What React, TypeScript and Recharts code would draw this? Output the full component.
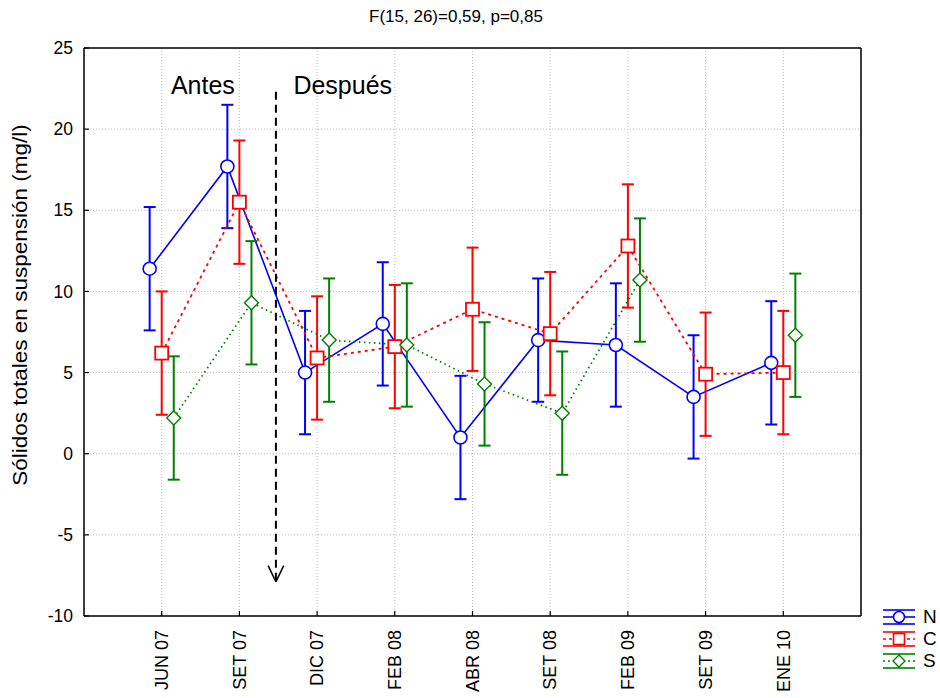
import React from 'react';
import {
  ComposedChart,
  Line,
  ErrorBar,
  XAxis,
  YAxis,
  CartesianGrid,
  ReferenceLine,
  ReferenceDot,
} from 'recharts';

// sampling campaigns
const categories = ['JUN 07', 'SET 07', 'DIC 07', 'FEB 08', 'ABR 08', 'SET 08', 'FEB 09', 'SET 09', 'ENE 10'];

// means per site (mg/l)
const nValues = [11.4, 17.7, 5.0, 8.0, 1.0, 7.0, 6.7, 3.5, 5.6];
const cValues = [6.2, 15.5, 5.9, 6.6, 8.9, 7.4, 12.8, 4.9, 5.0];
const sValues: (number | null)[] = [2.2, 9.3, 7.0, 6.7, 4.3, 2.5, 10.7, null, 7.3];

// half-width of the confidence bars
const nErrors = [3.8, 3.8, 3.8, 3.8, 3.8, 3.8, 3.8, 3.8, 3.8];
const cErrors = [3.8, 3.8, 3.8, 3.8, 3.8, 3.8, 3.8, 3.8, 3.8];
const sErrors = [3.8, 3.8, 3.8, 3.8, 3.8, 3.8, 3.8, null, 3.8];

const yTicks = [-10, -5, 0, 5, 10, 15, 20, 25];
const xTicks = [1, 2, 3, 4, 5, 6, 7, 8, 9];

const FONT = "Arial, 'Liberation Sans', sans-serif";
const BLUE = '#0000ff';
const RED = '#ff0000';
const GREEN = '#008000';

// small horizontal shift so the three series don't overlap
const SHIFT = 0.155;

const build = (vals: (number | null)[], errs: (number | null)[], offset: number) =>
  vals.map((v, i) => ({ x: i + 1 + offset, y: v, err: errs[i] }));

const nData = build(nValues, nErrors, -SHIFT);
const cData = build(cValues, cErrors, 0);
const sData = build(sValues, sErrors, SHIFT);

// annotation (before / after)
const ARROW_X = 2.47;
const ARROW_TOP = 22.3;
const ARROW_TIP = -7.9;

const circleDot = (props: any) => {
  const { cx, cy, index } = props;
  if (cx == null || cy == null) return <g key={`n${index}`} />;
  return <circle key={`n${index}`} cx={cx} cy={cy} r={6.5} fill="#fff" stroke={BLUE} strokeWidth={1.6} />;
};

const squareDot = (props: any) => {
  const { cx, cy, index } = props;
  if (cx == null || cy == null) return <g key={`c${index}`} />;
  return <rect key={`c${index}`} x={cx - 6.5} y={cy - 6.5} width={13} height={13} fill="#fff" stroke={RED} strokeWidth={1.8} />;
};

const diamondDot = (props: any) => {
  const { cx, cy, index } = props;
  if (cx == null || cy == null) return <g key={`s${index}`} />;
  const d = 7;
  return (
    <path
      key={`s${index}`}
      d={`M${cx},${cy - d}L${cx + d},${cy}L${cx},${cy + d}L${cx - d},${cy}Z`}
      fill="#fff"
      stroke={GREEN}
      strokeWidth={1.4}
    />
  );
};

const XTick = (props: any) => {
  const { x, y, payload } = props;
  const label = categories[payload.value - 1] ?? '';
  return (
    <g>
      <line x1={x} x2={x} y1={y - 14} y2={y - 19} stroke="#000" strokeWidth={1.2} />
      <text
        x={x}
        y={y}
        transform={`rotate(-90 ${x} ${y})`}
        textAnchor="end"
        dy="0.35em"
        fontSize={18}
        fontFamily={FONT}
        fill="#000"
      >
        {label}
      </text>
    </g>
  );
};

const YTick = (props: any) => {
  const { x, y, payload } = props;
  return (
    <g>
      <line x1={x + 11} x2={x + 16} y1={y} y2={y} stroke="#000" strokeWidth={1.2} />
      <text x={x} y={y} textAnchor="end" dy="0.35em" fontSize={17.5} fontFamily={FONT} fill="#000">
        {payload.value}
      </text>
    </g>
  );
};

const legendItems = [
  { name: 'N', color: BLUE, dash: undefined, marker: 'circle' },
  { name: 'C', color: RED, dash: '3 3', marker: 'square' },
  { name: 'S', color: GREEN, dash: '2 3', marker: 'diamond' },
];

function LegendBox() {
  return (
    <div style={{ position: 'absolute', left: 880, top: 606, fontFamily: FONT }}>
      {legendItems.map((it) => (
        <div key={it.name} style={{ display: 'flex', alignItems: 'center', height: 22 }}>
          <svg width={38} height={18}>
            <line x1={3} x2={35} y1={2} y2={2} stroke={it.color} strokeWidth={1.6} />
            <line x1={3} x2={35} y1={16} y2={16} stroke={it.color} strokeWidth={1.6} />
            <line x1={19} x2={19} y1={2} y2={16} stroke={it.color} strokeWidth={1.6} />
            <line x1={3} x2={35} y1={9} y2={9} stroke={it.color} strokeWidth={1.6} strokeDasharray={it.dash} />
            {it.marker === 'circle' && <circle cx={19} cy={9} r={5.5} fill="#fff" stroke={it.color} strokeWidth={1.6} />}
            {it.marker === 'square' && <rect x={13.5} y={3.5} width={11} height={11} fill="#fff" stroke={it.color} strokeWidth={1.6} />}
            {it.marker === 'diamond' && (
              <path d="M19,3L25,9L19,15L13,9Z" fill="#fff" stroke={it.color} strokeWidth={1.4} />
            )}
          </svg>
          <span style={{ fontSize: 19, marginLeft: 5, color: '#000' }}>{it.name}</span>
        </div>
      ))}
    </div>
  );
}

export default function App() {
  return (
    <div
      style={{
        position: 'fixed',
        left: 0,
        top: 0,
        width: 940,
        height: 698,
        overflow: 'hidden',
        fontFamily: FONT,
        background: '#fff',
      }}
    >
      <div
        style={{
          position: 'absolute',
          left: 0,
          width: 912,
          top: 7,
          textAlign: 'center',
          fontSize: 17,
          color: '#000',
        }}
      >
        F(15, 26)=0,59, p=0,85
      </div>
      <div
        style={{
          position: 'absolute',
          left: 21 - 250,
          top: 305 - 12,
          width: 500,
          height: 24,
          lineHeight: '24px',
          textAlign: 'center',
          transform: 'rotate(-90deg) scaleY(0.9)',
          fontSize: 22.5,
          color: '#000',
          whiteSpace: 'nowrap',
        }}
      >
        Sólidos totales en suspensión (mg/l)
      </div>

      <ComposedChart width={940} height={698} margin={{ top: 48, right: 79, left: 24, bottom: 2 }}>
        <CartesianGrid stroke="#bdbdbd" strokeDasharray="1 2" />
        <XAxis
          type="number"
          dataKey="x"
          domain={[0, 10]}
          ticks={xTicks}
          allowDataOverflow
          height={80}
          tickSize={0}
          tickMargin={14}
          tick={<XTick />}
          axisLine={{ stroke: '#000', strokeWidth: 1.5 }}
        />
        <YAxis
          type="number"
          domain={[-10, 25]}
          ticks={yTicks}
          allowDataOverflow
          width={60}
          tickSize={0}
          tickMargin={11}
          tick={<YTick />}
          axisLine={{ stroke: '#000', strokeWidth: 1.5 }}
        />
        <ReferenceLine y={25} stroke="#000" strokeWidth={1.5} />
        <ReferenceLine x={10} stroke="#000" strokeWidth={1.5} />

        <Line
          data={nData}
          dataKey="y"
          name="N"
          stroke={BLUE}
          strokeWidth={1.6}
          dot={circleDot}
          activeDot={false}
          isAnimationActive={false}
        >
          <ErrorBar dataKey="err" width={6} strokeWidth={2} stroke={BLUE} direction="y" isAnimationActive={false} />
        </Line>
        <Line
          data={cData}
          dataKey="y"
          name="C"
          stroke={RED}
          strokeWidth={1.8}
          strokeDasharray="3 4"
          dot={squareDot}
          activeDot={false}
          isAnimationActive={false}
        >
          <ErrorBar dataKey="err" width={6} strokeWidth={2} stroke={RED} direction="y" isAnimationActive={false} />
        </Line>
        <Line
          data={sData}
          dataKey="y"
          name="S"
          stroke={GREEN}
          strokeWidth={1.8}
          strokeDasharray="1.5 3.5"
          dot={diamondDot}
          activeDot={false}
          isAnimationActive={false}
        >
          <ErrorBar dataKey="err" width={6} strokeWidth={2} stroke={GREEN} direction="y" isAnimationActive={false} />
        </Line>

        <ReferenceLine
          segment={[
            { x: ARROW_X, y: ARROW_TOP },
            { x: ARROW_X, y: ARROW_TIP },
          ]}
          stroke="#000"
          strokeWidth={2}
          strokeDasharray="8 5"
        />
        <ReferenceLine
          segment={[
            { x: ARROW_X - 0.1, y: ARROW_TIP + 1 },
            { x: ARROW_X, y: ARROW_TIP },
          ]}
          stroke="#000"
          strokeWidth={1.5}
        />
        <ReferenceLine
          segment={[
            { x: ARROW_X + 0.1, y: ARROW_TIP + 1 },
            { x: ARROW_X, y: ARROW_TIP },
          ]}
          stroke="#000"
          strokeWidth={1.5}
        />
        <ReferenceDot
          x={1.53}
          y={22.7}
          r={0}
          fill="none"
          stroke="none"
          label={{ value: 'Antes', position: 'center', fontSize: 25, fill: '#000', fontFamily: FONT }}
        />
        <ReferenceDot
          x={3.33}
          y={22.7}
          r={0}
          fill="none"
          stroke="none"
          label={{ value: 'Después', position: 'center', fontSize: 25, fill: '#000', fontFamily: FONT }}
        />
      </ComposedChart>
      <LegendBox />
    </div>
  );
}
